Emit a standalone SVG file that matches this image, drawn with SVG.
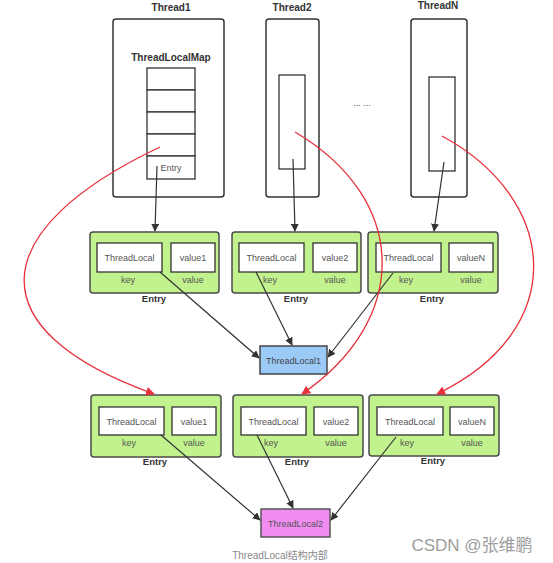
<svg xmlns="http://www.w3.org/2000/svg" width="553" height="563" viewBox="0 0 553 563">
<defs>
<marker id="ab" viewBox="0 0 10 10" refX="9" refY="5" markerWidth="8" markerHeight="8" orient="auto" markerUnits="userSpaceOnUse"><path d="M0,0 L10,5 L0,10 z" fill="#333"/></marker>
<marker id="ar" viewBox="0 0 10 10" refX="9" refY="5" markerWidth="9" markerHeight="9" orient="auto" markerUnits="userSpaceOnUse"><path d="M0,0 L10,5 L0,10 z" fill="#e8303a"/></marker>
<style>
.thr{fill:#fff;stroke:#333;stroke-width:1.5}
.cell{fill:#fff;stroke:#333;stroke-width:1.3}
.ent{fill:#c2f28e;stroke:#4a4a4a;stroke-width:1.5}
.in{fill:#fff;stroke:#333;stroke-width:1.3}
.t{font-family:"Liberation Sans",Arial,sans-serif;font-size:9px;fill:#555;text-anchor:middle}
.b{font-family:"Liberation Sans",Arial,sans-serif;font-size:10px;font-weight:bold;fill:#333;text-anchor:middle}
.blk{fill:none;stroke:#333;stroke-width:1.2;marker-end:url(#ab)}
.red{fill:none;stroke:#e8303a;stroke-width:1.3;marker-end:url(#ar)}
</style>
</defs>
<rect width="553" height="563" fill="#fff"/>

<g id="thread1">
<text class="b" x="171" y="11">Thread1</text>
<rect class="thr" x="113" y="19" width="111" height="178" rx="3"/>
<text class="b" x="171" y="61">ThreadLocalMap</text>
<rect class="cell" x="147" y="68" width="48" height="22"/>
<rect class="cell" x="147" y="90" width="48" height="22"/>
<rect class="cell" x="147" y="112" width="48" height="22"/>
<rect class="cell" x="147" y="134" width="48" height="22"/>
<rect class="cell" x="147" y="156" width="48" height="23"/>
<text class="t" x="171" y="171">Entry</text>
</g>
<g id="thread2">
<text class="b" x="292" y="11">Thread2</text>
<rect class="thr" x="266" y="19" width="53" height="178" rx="3"/>
<rect class="cell" x="279" y="75" width="26" height="94"/>
</g>
<g id="dots"><text class="t" x="362" y="106" style="fill:#444">... ...</text></g>
<g id="threadN">
<text class="b" x="438" y="9">ThreadN</text>
<rect class="thr" x="411" y="19" width="56" height="178" rx="3"/>
<rect class="cell" x="429" y="77" width="26" height="94"/>
</g>

<g id="entry1a">
<rect class="ent" x="90" y="232" width="129" height="61" rx="3"/>
<rect class="in" x="97" y="243" width="65" height="29"/>
<rect class="in" x="171" y="243" width="44" height="29"/>
<text class="t" x="129.5" y="261">ThreadLocal</text>
<text class="t" x="193" y="261">value1</text>
<text class="t" x="128" y="283">key</text>
<text class="t" x="193" y="283">value</text>
<text class="b" x="154" y="302" style="font-size:9.5px">Entry</text>
</g>
<g id="entry2a">
<rect class="ent" x="232" y="232" width="129" height="61" rx="3"/>
<rect class="in" x="239" y="243" width="65" height="29"/>
<rect class="in" x="313" y="243" width="44" height="29"/>
<text class="t" x="271.5" y="261">ThreadLocal</text>
<text class="t" x="335" y="261">value2</text>
<text class="t" x="270" y="283">key</text>
<text class="t" x="335" y="283">value</text>
<text class="b" x="296" y="302" style="font-size:9.5px">Entry</text>
</g>
<g id="entryNa">
<rect class="ent" x="368" y="232" width="130" height="61" rx="3"/>
<rect class="in" x="376" y="243" width="65" height="29"/>
<rect class="in" x="449" y="243" width="44" height="29"/>
<text class="t" x="408.5" y="261">ThreadLocal</text>
<text class="t" x="471" y="261">valueN</text>
<text class="t" x="406" y="283">key</text>
<text class="t" x="471" y="283">value</text>
<text class="b" x="432" y="302" style="font-size:9.5px">Entry</text>
</g>
<g id="threadLocal1">
<rect x="260" y="346" width="67" height="28" fill="#9ccaf7" stroke="#444" stroke-width="1.5"/>
<text class="t" x="293.5" y="363.5" style="fill:#444">ThreadLocal1</text>
</g>

<g id="entry1b">
<rect class="ent" x="91" y="395" width="130" height="62" rx="3"/>
<rect class="in" x="99" y="407" width="65" height="28"/>
<rect class="in" x="172" y="407" width="44" height="28"/>
<text class="t" x="131.5" y="424.5">ThreadLocal</text>
<text class="t" x="194" y="424.5">value1</text>
<text class="t" x="129" y="446">key</text>
<text class="t" x="194" y="446">value</text>
<text class="b" x="155" y="465" style="font-size:9.5px">Entry</text>
</g>
<g id="entry2b">
<rect class="ent" x="233" y="395" width="130" height="62" rx="3"/>
<rect class="in" x="241" y="407" width="65" height="28"/>
<rect class="in" x="314" y="407" width="44" height="28"/>
<text class="t" x="273.5" y="424.5">ThreadLocal</text>
<text class="t" x="336" y="424.5">value2</text>
<text class="t" x="271" y="446">key</text>
<text class="t" x="336" y="446">value</text>
<text class="b" x="297" y="465" style="font-size:9.5px">Entry</text>
</g>
<g id="entryNb">
<rect class="ent" x="369" y="395" width="130" height="61" rx="3"/>
<rect class="in" x="377" y="407" width="66" height="28"/>
<rect class="in" x="450" y="407" width="44" height="28"/>
<text class="t" x="410" y="424.5">ThreadLocal</text>
<text class="t" x="472" y="424.5">valueN</text>
<text class="t" x="407" y="446">key</text>
<text class="t" x="472" y="446">value</text>
<text class="b" x="433" y="464" style="font-size:9.5px">Entry</text>
</g>
<g id="threadLocal2">
<rect x="261" y="509" width="69" height="28" fill="#f08cf2" stroke="#555" stroke-width="1.5"/>
<text class="t" x="295.5" y="526.5" style="fill:#555">ThreadLocal2</text>
</g>

<g id="connectors">
<path class="blk" d="M157,166 L155,231"/>
<path class="blk" d="M293,159 L295,231"/>
<path class="blk" d="M444,162 L434,231"/>
<path class="blk" d="M160,272 L259,358"/>
<path class="blk" d="M256,272 L292,345"/>
<path class="blk" d="M393,273 L328,357"/>
<path class="blk" d="M161,435 L260,520"/>
<path class="blk" d="M257,435 L293,508"/>
<path class="blk" d="M396,437 L331,520"/>
<path class="red" d="M160,147 C-15,230 -25,330 154,394"/>
<path class="red" d="M295,132 C410,200 410,320 302,394"/>
<path class="red" d="M442,136 C560,200 570,330 437,394"/>
</g>

<g id="caption">
<text x="280" y="559" style="font-family:'Liberation Sans','Noto Sans CJK SC',sans-serif;font-size:10px;fill:#888;text-anchor:middle">ThreadLocal结构内部</text>
</g>
<g id="watermark">
<text x="472" y="551" style="font-family:'Liberation Sans','Noto Sans CJK SC',sans-serif;font-size:17px;fill:#9d9d9d;text-anchor:middle">CSDN @张维鹏</text>
</g>
</svg>
